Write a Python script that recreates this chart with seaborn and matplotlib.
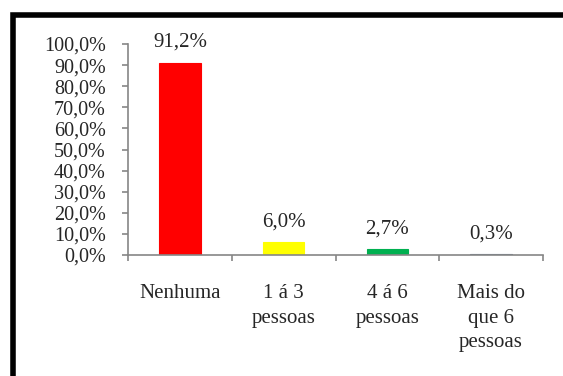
import matplotlib
matplotlib.use("Agg")
import matplotlib.pyplot as plt
import seaborn as sns
import pandas as pd
from matplotlib.patches import Rectangle

categorias = ["Nenhuma", "1 á 3\npessoas", "4 á 6\npessoas", "Mais do\nque 6\npessoas"]
percentuais = [91.2, 6.0, 2.7, 0.3]
cores = ["#FF0000", "#FFFF00", "#00B050", "#6B7C93"]
yticks = [0, 10, 20, 30, 40, 50, 60, 70, 80, 90, 100]

sns.set_theme(style="white")
plt.rcParams["font.family"] = ["Liberation Serif", "DejaVu Serif"]
plt.rcParams["font.size"] = 15

df = pd.DataFrame({"cat": categorias, "pct": percentuais})

fig = plt.figure(figsize=(5.63, 3.76), dpi=100)
W, H = 563, 376
ax = fig.add_axes([128 / W, 1 - 255 / H, (543 - 128) / W, (255 - 44) / H])

sns.barplot(data=df, x="cat", y="pct", hue="cat", palette=cores, width=0.4,
            legend=False, ax=ax, saturation=1)
# thin outline in the bar colour so very small bars stay visible
for patch, c in zip(ax.patches, cores):
    patch.set_edgecolor(c)
    patch.set_linewidth(0.8)

ax.set_xlim(-0.5, len(categorias) - 0.5)
ax.set_ylim(0, 100)
ax.set_yticks(yticks)
ax.set_yticklabels([f"{v:.1f}".replace(".", ",") + "%" for v in yticks])
ax.set_xlabel("")
ax.set_ylabel("")

grey = "#868686"
for side in ("top", "right"):
    ax.spines[side].set_visible(False)
for side in ("left", "bottom"):
    ax.spines[side].set_color(grey)
    ax.spines[side].set_linewidth(1.2)

ax.tick_params(axis="y", direction="out", length=4, width=1.2, color=grey,
               pad=12, labelsize=14.5, left=True)
ax.set_xticks([-0.5, 0.5, 1.5, 2.5, 3.5], minor=True)
ax.tick_params(axis="x", which="minor", direction="out", length=4, width=1.2,
               color=grey, bottom=True)
ax.tick_params(axis="x", which="major", length=0, pad=21, labelsize=15)
for lab in ax.get_xticklabels():
    lab.set_linespacing(1.4)
    lab.set_verticalalignment("top")

for cont in ax.containers:
    vals = cont.datavalues
    ax.bar_label(cont, labels=[f"{v:.1f}".replace(".", ",") + "%" for v in vals],
                 padding=8, fontsize=15)

# outer frame of the chart area
fig.patches.append(Rectangle((12.5 / W, -0.05), 1.2, 1 - 14.5 / H + 0.05,
                             transform=fig.transFigure, fill=False,
                             edgecolor="black", linewidth=4, zorder=10))

fig.savefig("out.png", dpi=100)
